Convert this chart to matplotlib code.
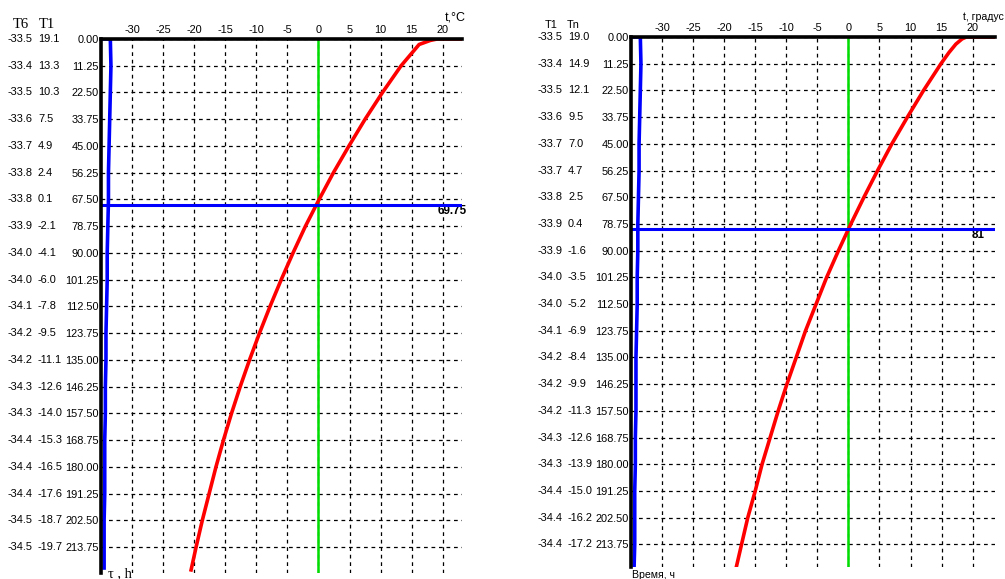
import matplotlib
matplotlib.use("Agg")
import matplotlib.pyplot as plt
from matplotlib import transforms

# ---------------- data ----------------
time_rows = [0.00, 11.25, 22.50, 33.75, 45.00, 56.25, 67.50, 78.75, 90.00, 101.25,
             112.50, 123.75, 135.00, 146.25, 157.50, 168.75, 180.00, 191.25, 202.50, 213.75]
x_ticks = [-30, -25, -20, -15, -10, -5, 0, 5, 10, 15, 20]

# left panel columns
left_t6 = [-33.5, -33.4, -33.5, -33.6, -33.7, -33.8, -33.8, -33.9, -34.0, -34.0,
           -34.1, -34.2, -34.2, -34.3, -34.3, -34.4, -34.4, -34.4, -34.5, -34.5]
left_t1 = [19.1, 13.3, 10.3, 7.5, 4.9, 2.4, 0.1, -2.1, -4.1, -6.0,
           -7.8, -9.5, -11.1, -12.6, -14.0, -15.3, -16.5, -17.6, -18.7, -19.7]
# extra curve points (start/end/knee)
left_red_head_t = [0.0, 0.0, 0.6, 2.3]
left_red_head_v = [23.1, 19.1, 18.0, 16.2]
left_red_tail_t = [223.3]
left_red_tail_v = [-20.5]
left_blue_head_t = [0.0]
left_blue_head_v = [-35.0]
left_blue_tail_t = [222.5]
left_blue_tail_v = [-34.5]
left_marker_time = 69.75

# right panel columns
right_t1 = [-33.5, -33.4, -33.5, -33.6, -33.7, -33.7, -33.8, -33.9, -33.9, -34.0,
            -34.0, -34.1, -34.2, -34.2, -34.2, -34.3, -34.3, -34.4, -34.4, -34.4]
right_tn = [19.0, 14.9, 12.1, 9.5, 7.0, 4.7, 2.5, 0.4, -1.6, -3.5,
            -5.2, -6.9, -8.4, -9.9, -11.3, -12.6, -13.9, -15.0, -16.2, -17.2]
right_red_head_t = [0.0, 0.0, 0.8, 3.0, 6.5]
right_red_head_v = [23.6, 19.0, 18.3, 17.3, 16.2]
right_red_tail_t = [222.8]
right_red_tail_v = [-18.0]
right_blue_head_t = [0.0]
right_blue_head_v = [-35.0]
right_blue_tail_t = [222.9]
right_blue_tail_v = [-34.5]
right_marker_time = 81

W, H = 1005, 579
fig = plt.figure(figsize=(W / 100, H / 100), dpi=100)

SANS = ["Liberation Sans", "DejaVu Sans"]
SERIF = ["Liberation Serif", "DejaVu Serif"]
FS = 7.9


def px_axes(l, t, r, b):
    return fig.add_axes([l / W, 1 - b / H, (r - l) / W, (b - t) / H])


def panel(ax, xmax, ymax, col1, col2, red, blue,
          marker_t, marker_label, marker_x_px, col1_x, col2_x, hdr, hdr_font, hdr_size,
          hdr_x, xlabel, xlabel_pos, xlabel_size, ylabel, ylabel_pos, ylabel_font, ylabel_size):
    ax.set_xlim(-35, xmax)
    ax.set_ylim(ymax, 0)
    for s in ["right", "bottom"]:
        ax.spines[s].set_visible(False)
    for s in ["top", "left"]:
        ax.spines[s].set_linewidth(2.6)
        ax.spines[s].set_color("black")
        ax.spines[s].set_zorder(6)
    ax.xaxis.tick_top()
    ax.set_xticks(x_ticks)
    ax.set_xticklabels([str(v) for v in x_ticks], fontfamily=SANS, fontsize=FS)
    ax.set_yticks(time_rows)
    ax.set_yticklabels([f"{v:.2f}" for v in time_rows], fontfamily=SANS, fontsize=FS)
    ax.tick_params(axis="x", length=0, pad=3)
    ax.tick_params(axis="y", length=0, pad=1.5)
    ax.grid(True, color="black", linestyle=(0, (3, 3)), linewidth=0.9)
    ax.set_axisbelow(True)

    # green zero line
    ax.axvline(0, color="#00dd00", linewidth=1.8, zorder=3)
    # red and blue curves (x = temperature, y = time)
    ax.plot(red[1], red[0], color="#ff0000", linewidth=2.6, zorder=4,
            solid_joinstyle="round")
    ax.plot(blue[1], blue[0], color="#0000ff", linewidth=2.6, zorder=4)
    # horizontal marker line
    ax.axhline(marker_t, color="#0000ff", linewidth=2.2, zorder=5)

    tr = transforms.blended_transform_factory(fig.transFigure, ax.transData)
    ax.text(marker_x_px / W, marker_t + 2.6, marker_label, transform=tr,
            ha="right", va="center", fontfamily=SANS, fontsize=8.4,
            fontweight="bold", clip_on=False)
    for v1, v2, tt in zip(col1, col2, time_rows):
        ax.text(col1_x / W, tt, f"{v1:.1f}", transform=tr, ha="left", va="center",
                fontfamily=SANS, fontsize=FS, clip_on=False)
        ax.text(col2_x / W, tt, f"{v2:.1f}", transform=tr, ha="left", va="center",
                fontfamily=SANS, fontsize=FS, clip_on=False)
    for txt, xp in zip(hdr, hdr_x):
        fig.text(xp / W, 1 - 25 / H, txt, ha="left", va="center",
                 fontfamily=hdr_font, fontsize=hdr_size)
    fig.text(xlabel_pos[0] / W, 1 - xlabel_pos[1] / H, xlabel, ha="left", va="center",
             fontfamily=SANS, fontsize=xlabel_size)
    fig.text(ylabel_pos[0] / W, 1 - ylabel_pos[1] / H, ylabel, ha="left",
             va="baseline", fontfamily=ylabel_font, fontsize=ylabel_size)


# left panel
axL = px_axes(101, 39, 462, 573)
panel(axL, 23.1, 224.6, left_t6, left_t1,
      (left_red_head_t + time_rows[1:] + left_red_tail_t,
       left_red_head_v + left_t1[1:] + left_red_tail_v),
      (left_blue_head_t + time_rows + left_blue_tail_t,
       left_blue_head_v + left_t6 + left_blue_tail_v),
      left_marker_time, "69.75", 467, 8, 38, ["T6", "T1"], SERIF, 10.5, [13, 39],
      "t,°C", (445, 18), 9, "τ , h", (108, 577), SERIF, 10.5)

# right panel
axR = px_axes(631, 37, 995, 567)
panel(axR, 23.6, 223.3, right_t1, right_tn,
      (right_red_head_t + time_rows[1:] + right_red_tail_t,
       right_red_head_v + right_tn[1:] + right_red_tail_v),
      (right_blue_head_t + time_rows + right_blue_tail_t,
       right_blue_head_v + right_t1 + right_blue_tail_v),
      right_marker_time, "81", 985, 538, 568, ["T1", "Tn"], SANS, FS, [545, 567],
      "t, градус", (963, 17), 7.6, "Время, ч", (632, 578), SANS, 7.6)

fig.savefig("out.png", dpi=100)
